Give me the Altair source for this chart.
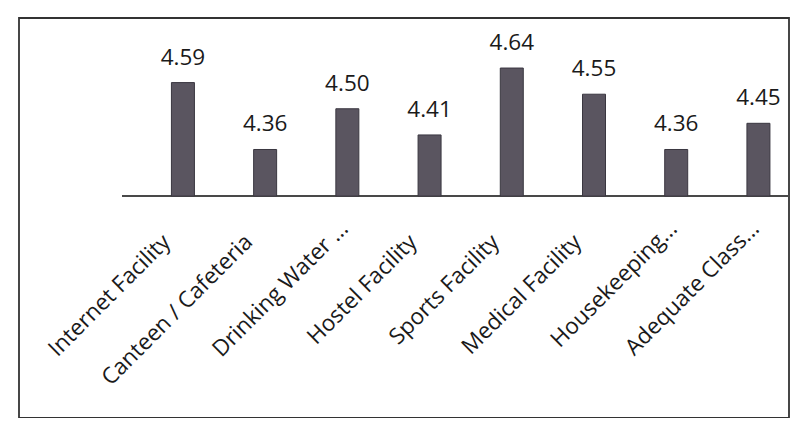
import altair as alt
import pandas as pd

categories = ["Internet Facility", "Canteen / Cafeteria", "Drinking Water ...", "Hostel Facility",
              "Sports Facility", "Medical Facility", "Housekeeping...", "Adequate Class..."]
values = [4.59, 4.36, 4.50, 4.41, 4.64, 4.55, 4.36, 4.45]
value_labels = ["4.59", "4.36", "4.50", "4.41", "4.64", "4.55", "4.36", "4.45"]

df = pd.DataFrame({"cat": categories, "val": values, "lab": value_labels,
                   "idx": list(range(len(categories)))})

FONT = "Open Sans"
xscale = alt.Scale(domain=[-1.933, 7.311], nice=False, zero=False)
x = alt.X("idx:Q", scale=xscale, axis=None)
yscale = alt.Scale(domain=[3.437, 4.812], nice=False, zero=False)

base = alt.Chart(df).transform_calculate(b="4.2", lb="4.11")

bars = base.mark_bar(width=23, color="#5a5560", stroke="#3a3740", strokeWidth=1).encode(
    x=x,
    y=alt.Y("val:Q", scale=yscale, axis=None),
    y2="b:Q",
)

vlabels = base.mark_text(font=FONT, fontSize=22.5, color="#1a1a1a", baseline="alphabetic", dy=-18).encode(
    x=x, y=alt.Y("val:Q", scale=yscale, axis=None), text="lab:N"
)

clabels_trunc = base.transform_filter("indexof(datum.cat, '...') >= 0").mark_text(
    font=FONT, fontSize=22.5, color="#1a1a1a", align="right", baseline="middle",
    angle=315, dx=-4).encode(
    x=x, y=alt.Y("lb:Q", scale=yscale, axis=None), text="cat:N"
)

clabels_full = base.transform_filter("indexof(datum.cat, '...') < 0").mark_text(
    font=FONT, fontSize=22.5, color="#1a1a1a", align="right", baseline="middle",
    angle=315, dx=-23).encode(
    x=x, y=alt.Y("lb:Q", scale=yscale, axis=None), text="cat:N"
)

baseline = base.mark_rule(color="#4a4a4a", strokeWidth=1.5).encode(
    x=alt.value(103), x2=alt.value(770), y=alt.Y("b:Q", scale=yscale, axis=None)
)

chart = alt.layer(baseline, bars, vlabels, clabels_trunc, clabels_full).properties(
    width=770, height=400,
    background="white",
    padding={"left": 11, "top": 10, "right": 1, "bottom": 0},
).configure_view(stroke="#333333", strokeWidth=1.8)

chart.save("out.html", embed_options={"renderer": "svg", "actions": False})
